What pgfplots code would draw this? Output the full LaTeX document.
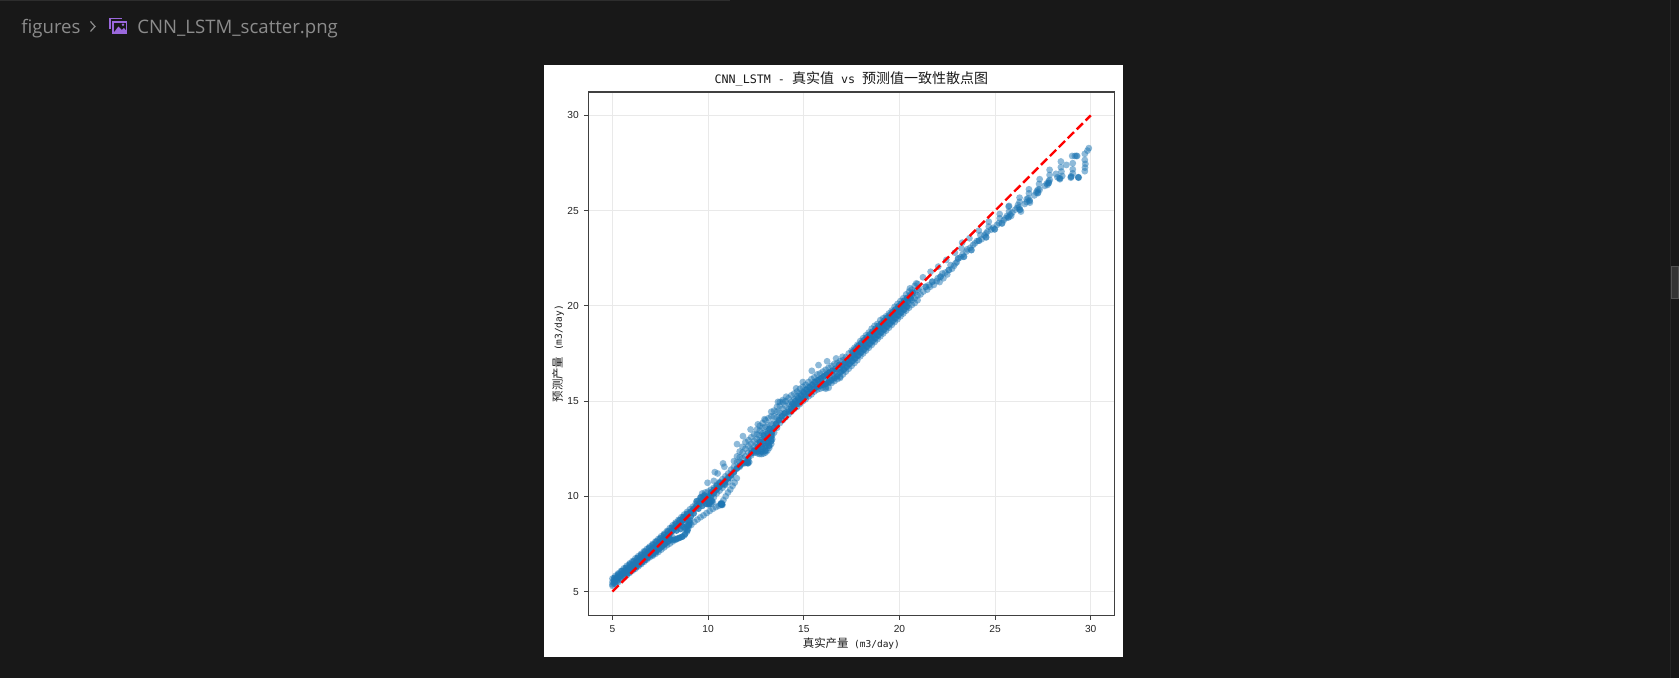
\documentclass[border=0pt]{standalone}
\usepackage{fontspec}
\usepackage{pgfplots}
\pgfplotsset{compat=1.18}
\setmainfont{Liberation Sans}
\newfontfamily\cjk{Noto Sans CJK SC}
\newfontfamily\mono{DejaVu Sans Mono}
\newfontfamily\ui{Open Sans}
\definecolor{vsbg}{HTML}{181818}
\definecolor{vsgrey}{HTML}{8C8C8C}
\definecolor{mplblue}{HTML}{1F77B4}
\definecolor{axdark}{HTML}{404040}
\definecolor{gridc}{HTML}{E9E9E9}
\definecolor{iconp}{HTML}{9A68DC}
\pgfplotsset{pts/.style={only marks,mark=*,mark size=1.7pt,mark options={draw=mplblue,draw opacity=0,fill=mplblue,fill opacity=0.5,line width=0pt},forget plot},
core/.style={only marks,mark=*,mark size=1.65pt,mark options={draw=mplblue,draw opacity=0,fill=mplblue,fill opacity=0.8,line width=0pt},forget plot}}
\begin{document}
\begin{tikzpicture}
\begin{scope}[yshift=339pt,x=0.5pt,y=-0.5pt]
\fill[vsbg] (0,0) rectangle (1679,678);
\fill[white!9!vsbg] (0,0) rectangle (730,1);
\fill[white] (544,65) rectangle (1123,657.6);
\fill[white!6!vsbg] (1670,0) rectangle (1671,678);
\filldraw[fill=white!12!vsbg,draw=white!25!vsbg,line width=0.4pt] (1672,266) rectangle (1679,298);
\node[anchor=base west,inner sep=0pt,text=vsgrey,font=\ui\fontsize{9.3}{11}\selectfont] at (21,34) {figures};
\draw[vsgrey,line width=0.6pt] (90.5,21.5) -- (95,26.5) -- (90.5,31.5);
\draw[iconp,line width=0.6pt] (110,18.5) -- (110,29) (110,18.5) -- (122,18.5);
\draw[iconp,line width=0.6pt] (113,22) rectangle (126.5,33.5);
\fill[iconp] (113,33.5) -- (118.5,26.5) -- (122,30) -- (124,28) -- (126.5,31) -- (126.5,33.5) -- cycle;
\fill[iconp] (123,24.7) circle (1.4);
\node[anchor=base west,inner sep=0pt,text=vsgrey,font=\ui\fontsize{9.3}{11}\selectfont] at (137,34) {CNN\_LSTM\_scatter.png};
\end{scope}
\begin{axis}[
  at={(294.15pt,31.15pt)},anchor=south west,
  scale only axis,width=263.3pt,height=261.85pt,
  xmin=3.73,xmax=31.25,ymin=3.74,ymax=31.23,
  xtick={5,10,15,20,25,30},ytick={5,10,15,20,25,30},
  /pgf/number format/assume math mode=true,
  tick label style={font=\fontsize{5.1}{6}\selectfont,text=black!85},
  tick align=outside,major tick length=2.2pt,
  tick style={axdark,line width=0.5pt},
  xtick pos=bottom,ytick pos=left,
  xticklabel style={yshift=1pt},
  yticklabel style={xshift=1pt},
  axis line style={axdark,line width=0.55pt},
  grid=major,grid style={gridc,line width=0.5pt},
  clip mode=individual,
  title style={at={(0.5,1)},anchor=south,yshift=-4.6pt,inner sep=1.5pt},
  title={\fontsize{7}{8}\selectfont\textcolor{black!90}{{\mono\fontsize{5.85}{8}\selectfont CNN\_LSTM - }{\cjk 真实值}{\mono\fontsize{5.85}{8}\selectfont\ vs }{\cjk 预测值一致性散点图}}},
  xlabel={\fontsize{5.7}{6.5}\selectfont\textcolor{black!90}{{\cjk 真实产量}{\mono\fontsize{4.75}{6.5}\selectfont\ (m3/day)}}},
  ylabel={\fontsize{5.7}{6.5}\selectfont\textcolor{black!90}{{\cjk 预测产量}{\mono\fontsize{4.75}{6.5}\selectfont\ (m3/day)}}},
  xlabel style={at={(0.5,0)},anchor=north,yshift=-10.2pt,inner sep=1pt},
  ylabel style={at={(0,0.5)},anchor=south,yshift=11pt,inner sep=1pt}
]
% low band
\addplot[pts] coordinates {
(5.0,5.68)(5.15,5.82)(5.3,5.95)(5.45,6.08)(5.6,6.22)(5.75,6.35)(5.9,6.48)(6.05,6.6)(6.2,6.74)(6.35,6.86)(6.5,6.98)(6.65,7.12)(6.8,7.24)(6.95,7.36)(7.1,7.5)(7.25,7.63)(7.4,7.76)(7.55,7.9)(7.7,8.03)(7.85,8.18)(8.0,8.33)(8.15,8.48)(8.3,8.62)(8.45,8.76)(8.6,8.9)(8.75,9.04)(8.9,9.18)(9.05,9.32)
(5.0,5.5)(5.15,5.62)(5.3,5.75)(5.45,5.88)(5.6,6.0)(5.75,6.13)(5.9,6.25)(6.05,6.38)(6.2,6.5)(6.35,6.63)(6.5,6.75)(6.65,6.88)(6.8,7.0)(6.95,7.13)(7.1,7.25)(7.25,7.38)(7.4,7.5)(7.55,7.63)(7.7,7.76)(7.85,7.9)(8.0,8.05)(8.15,8.2)(8.3,8.35)(8.45,8.42)(8.6,8.5)(8.75,8.6)(8.9,8.75)
(5.0,5.3)(5.15,5.4)(5.3,5.5)(5.45,5.62)(5.6,5.74)(5.75,5.86)(5.9,5.98)(6.05,6.1)(6.2,6.2)(6.35,6.32)(6.5,6.44)(6.65,6.56)(6.8,6.68)(6.95,6.8)(7.1,6.93)(7.25,7.06)(7.4,7.2)(7.55,7.34)(7.7,7.48)(7.85,7.62)(8.0,7.75)(8.15,7.85)
(5.0,5.38)(5.08,5.42)(5.22,5.52)(7.1,6.88)(7.25,6.98)(7.4,7.08)(7.55,7.2)(7.7,7.32)(7.85,7.43)(8.0,7.52)(8.15,7.63)(8.3,7.72)(8.45,7.8)(8.6,7.86)(8.75,7.95)(8.9,8.15)(8.95,8.3)(9.0,8.45)(9.05,8.6)(9.05,8.75)
(5.08,5.6)(5.23,5.72)(5.38,5.85)(5.53,5.98)(5.68,6.1)(5.83,6.22)(5.98,6.35)(6.13,6.47)(6.28,6.6)(6.43,6.72)(6.58,6.85)(6.73,6.98)(6.88,7.1)(7.03,7.22)(7.18,7.35)(7.33,7.48)(7.48,7.62)(7.63,7.75)(7.78,7.88)(7.93,8.02)(8.08,8.18)(8.23,8.33)(8.38,8.48)(8.53,8.63)(8.68,8.77)(8.83,8.92)
(5.12,5.48)(5.27,5.6)(5.42,5.72)(5.57,5.85)(5.72,5.98)(5.87,6.1)(6.02,6.22)(6.17,6.34)(6.32,6.46)(6.47,6.58)(6.62,6.7)(6.77,6.83)(6.92,6.95)(7.07,7.08)(7.22,7.2)(7.37,7.33)(7.52,7.46)(7.67,7.6)(7.82,7.74)(7.97,7.88)
(9.12,8.5)(9.28,8.66)(9.44,8.78)(9.6,8.9)(9.76,9.0)(9.92,9.12)(10.08,9.23)(10.24,9.34)(10.4,9.43)(10.55,9.5)
(10.7,9.55)(10.72,9.6)(10.68,9.58)(10.75,9.55)(10.65,9.6)(10.7,9.65)
(10.8,9.8)(10.92,10.0)(11.04,10.2)(11.16,10.36)(11.28,10.55)(11.39,10.72)(11.5,10.95)
};
% 9 to 13
\addplot[pts] coordinates {
(9.05,9.1)(9.2,9.25)(9.2,9.45)(9.35,9.35)(9.35,9.6)(9.5,9.5)(9.5,9.75)(9.65,9.62)(9.65,9.9)(9.69,10.15)(9.75,10.0)(9.85,9.75)(9.85,9.95)(9.85,10.2)(10.0,9.6)(10.0,9.8)(10.0,10.0)(10.0,10.25)(10.15,9.6)(10.15,9.8)(10.15,10.1)(10.15,10.35)(10.05,9.55)(10.25,9.7)(10.3,9.95)(10.3,10.2)(10.3,10.45)(10.45,10.15)(10.45,10.4)(10.45,10.6)(10.6,10.3)(10.6,10.55)(10.6,10.75)(10.75,10.45)(10.75,10.7)(10.75,10.9)(10.9,10.6)(10.87,10.67)(10.85,10.62)(10.9,10.85)(10.9,11.05)(11.05,10.75)(11.05,11.0)(11.05,11.2)(11.2,10.95)(11.2,11.15)(11.2,11.4)
(9.97,10.71)(10.35,11.27)(10.5,11.2)(10.3,10.81)(10.78,11.73)(10.85,11.55)
(11.35,11.3)(11.35,11.55)(11.35,11.85)(11.51,11.5)(11.51,11.8)(11.51,12.1)(11.51,12.74)(11.65,11.55)(11.65,11.8)(11.65,12.05)(11.65,12.35)(11.8,11.7)(11.8,12.0)(11.8,12.3)(11.8,12.6)(11.82,13.16)(11.95,11.75)(11.95,12.1)(11.95,12.5)(11.95,12.85)(12.08,11.73)(12.1,11.85)(12.0,11.8)(12.15,11.8)(12.1,12.3)(12.1,12.65)(12.1,12.95)(12.22,13.51)(12.25,12.15)(12.25,12.45)(12.25,12.75)(12.25,13.1)(12.4,12.35)(12.4,12.6)(12.4,12.9)(12.4,13.25)(12.6,13.78)
(12.3,12.4)(12.4,12.3)(12.5,12.3)(12.6,12.25)(12.7,12.22)(12.8,12.22)(12.9,12.25)(13.0,12.3)(13.1,12.4)(13.2,12.55)(13.3,12.75)(13.35,13.0)(13.35,13.2)(12.95,14.05)(13.3,14.44)(13.65,14.96)(14.08,15.23)
(12.55,12.5)(12.55,12.75)(12.55,13.0)(12.55,13.25)(12.55,13.5)(12.7,12.45)(12.7,12.7)(12.7,12.95)(12.7,13.2)(12.7,13.45)(12.7,13.7)(12.85,12.5)(12.85,12.75)(12.85,13.0)(12.85,13.3)(12.85,13.6)(12.85,13.85)(13.0,12.55)(13.0,12.8)(13.0,13.05)(13.0,13.35)(13.0,13.65)(13.0,14.0)(13.15,12.7)(13.15,12.95)(13.15,13.2)(13.15,13.45)(13.15,13.75)(13.15,14.1)(13.3,13.0)(13.3,13.25)(13.3,13.5)(13.3,13.8)(13.3,14.2)(13.45,13.35)(13.45,13.6)(13.45,13.9)(13.45,14.2)(13.45,14.5)
};
% 13.6 to 17
\addplot[pts] coordinates {
(13.6,13.6)(13.6,13.85)(13.6,14.15)(13.6,14.45)(13.6,14.7)(13.75,13.85)(13.75,14.1)(13.75,14.4)(13.75,14.75)(13.75,14.95)(13.9,14.0)(13.9,14.3)(13.9,14.6)(13.9,14.95)(13.9,15.05)(14.05,14.15)(14.05,14.4)(14.05,14.75)(14.05,15.0)(14.2,14.3)(14.2,14.55)(14.2,14.85)(14.2,15.15)(14.35,14.45)(14.35,14.7)(14.35,14.95)(14.35,15.3)(14.5,14.6)(14.5,14.85)(14.5,15.1)(14.5,15.4)(14.6,15.67)(14.65,14.7)(14.65,14.95)(14.65,15.25)(14.65,15.5)(14.8,14.85)(14.8,15.1)(14.8,15.4)(14.8,15.65)(14.95,15.0)(14.95,15.2)(14.95,15.5)(14.95,15.75)(14.95,16.0)(15.1,15.1)(15.1,15.35)(15.1,15.6)(15.1,15.85)(15.25,15.25)(15.25,15.5)(15.25,15.75)(15.25,16.0)(15.42,16.59)(15.4,15.35)(15.4,15.6)(15.4,15.85)(15.4,16.15)(15.55,15.5)(15.55,15.75)(15.55,16.0)(15.55,16.25)(15.77,16.89)(15.7,15.6)(15.7,15.85)(15.7,16.1)(15.7,16.4)(15.85,15.65)(15.85,15.9)(15.85,16.15)(15.85,16.45)(16.0,15.7)(16.0,15.95)(16.0,16.25)(16.0,16.55)(16.15,15.65)(16.15,15.72)(16.15,16.0)(16.15,16.35)(16.15,16.65)(16.22,17.09)(16.3,15.7)(16.3,15.95)(16.3,16.2)(16.3,16.5)(16.3,16.75)(16.45,15.95)(16.45,16.2)(16.45,16.5)(16.45,16.85)(16.6,16.05)(16.6,16.3)(16.6,16.55)(16.6,16.95)(16.69,17.24)(16.75,16.15)(16.75,16.4)(16.75,16.65)(16.75,17.0)(16.9,16.22)(16.9,16.28)(16.9,16.5)(16.9,16.75)(16.9,17.1)(17.03,17.33)
};
% 17 to 21
\addplot[pts] coordinates {
(17.05,16.4)(17.05,16.65)(17.05,16.9)(17.05,17.15)(17.2,16.55)(17.2,16.8)(17.2,17.05)(17.2,17.3)(17.35,16.7)(17.35,16.95)(17.35,17.2)(17.35,17.5)(17.5,16.85)(17.5,17.1)(17.5,17.35)(17.5,17.65)(17.65,17.0)(17.65,17.25)(17.65,17.5)(17.65,17.8)(17.8,17.15)(17.8,17.4)(17.8,17.65)(17.8,17.95)(17.95,17.35)(17.95,17.6)(17.95,17.85)(17.95,18.15)(18.1,17.5)(18.1,17.75)(18.1,18.0)(18.1,18.3)(18.25,17.65)(18.25,17.9)(18.25,18.15)(18.25,18.45)(18.4,17.8)(18.4,18.05)(18.4,18.3)(18.4,18.6)(18.55,17.95)(18.55,18.2)(18.55,18.45)(18.55,18.8)(18.7,18.1)(18.7,18.35)(18.7,18.6)(18.7,18.95)(18.85,18.25)(18.85,18.5)(18.85,18.75)(18.85,19.05)(19.0,18.4)(19.0,18.65)(19.0,18.9)(19.0,19.25)(19.15,18.55)(19.15,18.8)(19.15,19.05)(19.15,19.35)(19.3,18.7)(19.3,18.95)(19.3,19.2)(19.3,19.45)(19.45,18.85)(19.45,19.1)(19.45,19.35)(19.45,19.6)(19.6,19.0)(19.6,19.25)(19.6,19.5)(19.6,19.75)(19.75,19.15)(19.75,19.4)(19.75,19.65)(19.75,19.95)(19.9,19.3)(19.9,19.55)(19.9,19.8)(19.9,20.1)(20.05,19.45)(20.05,19.7)(20.05,19.95)(20.05,20.25)(20.2,19.6)(20.2,19.85)(20.2,20.1)(20.2,20.4)(20.35,19.75)(20.35,20.0)(20.35,20.25)(20.35,20.6)(20.5,19.9)(20.5,20.15)(20.5,20.4)(20.5,20.75)(20.65,20.05)(20.65,20.3)(20.65,20.55)(20.65,20.85)(20.8,20.15)(20.8,20.4)(20.8,20.7)(20.8,21.05)(20.95,20.3)(20.95,20.55)(20.95,20.85)(20.95,21.15)
};
% upper sparse part
\addplot[pts] coordinates {
(20.55,20.92)(20.88,21.18)(21.02,20.92)(21.1,20.6)(21.23,21.5)(21.25,20.75)(21.37,21.0)(21.45,20.85)(21.54,21.09)(21.63,21.79)(21.6,21.0)(21.72,21.27)(21.8,21.1)(21.95,21.3)(22.03,22.06)(22.0,21.45)(22.15,21.53)(22.1,21.25)(22.24,21.7)(22.3,21.45)(22.45,22.41)(22.4,21.75)(22.58,21.88)(22.5,21.65)(22.67,22.14)(22.75,21.95)(22.9,22.79)(22.93,22.23)(22.85,22.1)(23.07,22.49)(23.0,22.3)(23.24,23.02)(23.2,22.55)(23.28,23.32)(23.37,22.58)(23.3,22.7)(23.54,22.97)(23.5,22.85)(23.66,23.55)(23.76,22.93)(23.7,23.05)(23.94,23.28)(23.85,23.2)(24.15,23.95)(24.05,23.4)(24.15,23.42)(24.23,23.72)(24.3,23.5)(24.45,23.7)(24.53,23.81)(24.53,23.6)(24.67,24.42)(24.67,24.16)(24.6,23.9)(24.8,24.0)(24.98,24.02)(24.9,24.1)(25.1,24.25)(25.24,24.82)(25.24,24.6)(25.2,24.35)(25.36,24.33)(25.45,24.5)(25.62,24.72)(25.55,24.6)
(25.71,25.21)(25.73,25.25)(25.73,24.95)(25.84,24.72)(25.7,24.65)(25.8,24.8)(25.9,24.9)(26.05,25.05)(26.15,25.15)(26.28,25.68)(26.28,25.46)(26.25,25.17)(26.35,24.95)(26.2,25.3)(26.3,25.05)(26.55,25.35)(26.65,25.45)(26.77,26.12)(26.77,25.91)(26.73,25.65)(26.82,25.42)(26.65,25.6)(26.8,25.55)(27.05,25.8)(27.15,25.95)(27.33,26.65)(27.30,26.40)(27.26,26.12)(27.23,25.91)(27.33,26.1)(27.2,26.05)(27.6,26.3)(27.7,26.42)(27.85,27.14)(27.85,26.87)(27.86,26.61)(27.74,26.35)(27.8,26.45)(27.8,26.55)
(28.18,26.93)(28.26,26.75)(28.39,26.65)(28.44,27.58)(28.44,27.28)(28.47,27.05)(28.51,26.82)(28.36,26.7)(28.73,27.40)(28.96,26.73)(28.98,26.8)(29.03,27.87)(29.06,27.49)(29.06,27.17)(29.06,26.96)(29.17,27.87)(29.29,27.87)(29.25,27.87)(29.37,26.73)(29.35,26.75)(29.69,27.98)(29.69,27.66)(29.72,27.45)(29.70,27.26)(29.69,27.07)(29.83,28.15)(29.9,28.28)
(21.37,21.0)(21.72,21.27)(22.15,21.53)(22.58,21.88)(23.07,22.49)(23.37,22.58)(23.76,22.93)(24.15,23.42)(24.53,23.6)(24.98,24.02)(25.36,24.33)(25.7,24.65)(26.3,25.05)(26.8,25.5)(27.25,25.95)(27.8,26.45)(28.4,26.7)(28.97,26.77)(29.35,26.75)
};
% dense core
\addplot[core] coordinates {
(5.1,5.55)(5.25,5.68)(5.4,5.8)(5.55,5.92)(5.7,6.05)(5.85,6.17)(6.0,6.3)(6.15,6.42)(6.3,6.55)(6.45,6.67)(6.6,6.8)(6.75,6.92)(6.9,7.05)(7.05,7.17)(7.2,7.3)(7.35,7.43)(7.5,7.56)(7.65,7.7)(7.8,7.84)(7.95,7.98)(8.1,8.14)(8.25,8.3)(8.4,8.45)(8.55,8.6)(8.7,8.75)(8.85,8.9)
(5.1,5.72)(5.3,5.9)(5.5,6.08)(5.7,6.24)(5.9,6.42)(6.1,6.58)(6.3,6.76)(6.5,6.92)(6.7,7.1)(6.9,7.28)(7.1,7.44)(7.3,7.62)(7.5,7.8)(7.7,7.98)(7.9,8.16)(8.1,8.36)(8.3,8.55)(8.5,8.74)(8.7,8.92)(8.9,9.08)
(5.8,5.95)(5.95,6.07)(6.1,6.18)(6.25,6.3)(6.4,6.42)(6.55,6.54)(6.7,6.66)(6.85,6.78)(7.0,6.92)(7.15,7.03)(7.3,7.14)(7.45,7.26)(7.6,7.38)(7.75,7.5)(7.9,7.62)(8.05,7.72)
(8.2,7.72)(8.35,7.76)(8.5,7.82)(8.65,7.88)(8.8,8.02)(8.92,8.22)(9.0,8.5)
(8.35,8.2)(8.55,8.28)(8.7,8.4)(8.8,8.3)(8.9,8.45)(9.0,8.7)
(9.1,9.2)(9.25,9.35)(9.4,9.5)(9.55,9.65)(9.7,9.8)(9.85,9.85)(10.0,9.75)(10.1,9.7)(10.0,9.95)(10.15,10.0)(10.3,10.15)(10.45,10.35)(10.6,10.5)(10.75,10.65)(10.9,10.8)(11.05,10.95)(11.2,11.1)(11.35,11.25)(10.72,9.57)(10.68,9.6)
(9.1,8.95)(9.25,9.1)(9.4,9.75)(9.5,9.35)(9.6,9.95)(9.7,9.5)(9.8,10.05)(9.9,9.6)(10.05,9.6)(9.95,9.75)(10.2,9.75)(10.15,10.2)(10.3,10.35)(10.45,10.55)(10.6,10.7)
(11.5,11.45)(11.65,11.6)(11.8,11.75)(12.0,11.78)(12.08,11.75)(12.1,12.0)(12.25,12.25)
(12.4,12.4)(12.6,12.35)(12.8,12.35)(13.0,12.4)(13.2,12.65)(12.6,12.6)(12.8,12.6)(13.0,12.65)(13.15,12.85)(13.3,12.9)(12.7,12.85)(12.9,12.9)(13.1,13.05)(13.3,13.15)(12.9,13.2)(13.1,13.3)(13.35,13.4)(13.2,13.55)(13.45,13.6)(13.55,13.8)(13.7,14.0)(13.85,14.2)(14.0,14.35)
(14.2,14.45)(14.35,14.6)(14.5,14.72)(14.65,14.85)(14.8,15.0)(14.95,15.1)(15.1,15.25)(15.25,15.4)(15.4,15.5)(15.55,15.65)(15.7,15.75)(15.85,15.8)(16.0,15.85)(16.15,15.9)(16.3,16.0)(16.45,16.1)(16.6,16.2)(16.75,16.3)
(14.4,14.85)(14.55,15.0)(14.7,15.15)(14.85,15.3)(15.0,15.45)(15.15,15.6)(15.3,15.72)(15.45,15.85)(15.6,16.0)(15.75,16.1)(15.9,16.2)(16.05,16.3)(16.2,16.4)(16.35,16.5)(16.5,16.6)(16.65,16.7)(16.85,16.9)
(16.95,16.55)(17.1,16.65)(17.25,16.8)(17.4,16.95)(17.55,17.1)(17.7,17.25)(17.85,17.4)(18.0,17.55)(18.15,17.7)(18.3,17.85)(18.45,18.0)(18.6,18.15)(18.75,18.3)(18.9,18.45)(19.05,18.6)(19.2,18.75)(19.35,18.9)(19.5,19.05)(19.65,19.2)(19.8,19.35)(19.95,19.5)(20.1,19.65)(20.25,19.8)(20.4,19.95)
(17.0,16.85)(17.15,17.0)(17.3,17.1)(17.45,17.25)(17.6,17.4)(17.75,17.55)(17.9,17.7)(18.05,17.85)(18.2,18.0)(18.35,18.15)(18.5,18.3)(18.65,18.45)(18.8,18.6)(18.95,18.75)(19.1,18.9)(19.25,19.05)(19.4,19.2)(19.55,19.35)(19.7,19.5)(19.85,19.65)(20.0,19.8)(20.15,19.95)(20.3,20.1)(20.45,20.25)(20.6,20.4)
(17.55,17.58)(17.7,17.73)(17.85,17.9)(18.0,18.05)(18.15,18.2)(18.3,18.35)(18.45,18.5)(18.6,18.65)(18.75,18.8)(18.9,18.95)(19.05,19.08)(19.2,19.22)(19.35,19.38)(19.5,19.52)(19.65,19.68)(19.8,19.82)(19.95,19.98)(20.1,20.12)(20.25,20.28)(20.4,20.42)(20.55,20.55)(20.7,20.7)
};
\addplot[red,line width=1.2pt,dash pattern=on 4.4pt off 1.9pt,forget plot] coordinates {(5,5)(30,30)};
\end{axis}
\end{tikzpicture}
\end{document}
